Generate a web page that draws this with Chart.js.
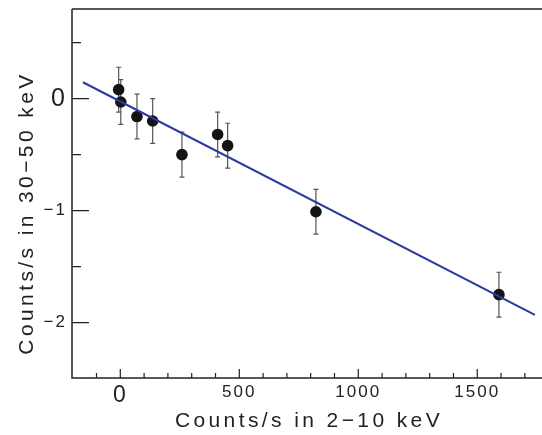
<!DOCTYPE html>
<html><head><meta charset="utf-8">
<script src="https://cdn.jsdelivr.net/npm/chart.js@4/dist/chart.umd.min.js"></script>
<style>html,body{margin:0;padding:0;background:#fff}canvas{display:block}</style>
</head><body>
<canvas id="c" width="542" height="435"></canvas>
<script>
// ---- data ----
const xVals = [-7, 2, 70, 136, 259, 409, 451, 822, 1591];
const yVals = [0.08, -0.03, -0.16, -0.20, -0.50, -0.32, -0.42, -1.01, -1.75];
const yErr  = [0.20, 0.20, 0.20, 0.20, 0.20, 0.20, 0.20, 0.20, 0.20];
const fitX = [-157, 1742];
const fitY = [0.146, -1.93];
const xMajorTicks = [0, 500, 1000, 1500];
const xMinorTicks = [-100, 100, 200, 300, 400, 600, 700, 800, 900, 1100, 1200, 1300, 1400, 1600, 1700];
const yMajorTicks = [0, -1, -2];
const yMinorTicks = [0.5, -0.5, -1.5];
const yTickLabels = ['0', '\u22121', '\u22122'];
const xTitle = 'Counts/s in 2\u221210 keV';
const yTitle = 'Counts/s in 30\u221250 keV';

const FAM = "'Liberation Sans', Arial, Helvetica, sans-serif";
const INK = '#222222';

const framePlugin = {
  id: 'frame',
  beforeDraw(chart) { chart.ctx.letterSpacing = '2px'; },
  beforeDatasetsDraw(chart) {
    const ctx = chart.ctx, xs = chart.scales.x, ys = chart.scales.y;
    ctx.save();
    ctx.strokeStyle = '#555555';
    ctx.lineWidth = 1.2;
    for (let i = 0; i < xVals.length; i++) {
      const px = xs.getPixelForValue(xVals[i]);
      const pt = ys.getPixelForValue(yVals[i] + yErr[i]);
      const pb = ys.getPixelForValue(yVals[i] - yErr[i]);
      ctx.beginPath();
      ctx.moveTo(px, pt); ctx.lineTo(px, pb);
      ctx.moveTo(px - 2.5, pt); ctx.lineTo(px + 2.5, pt);
      ctx.moveTo(px - 2.5, pb); ctx.lineTo(px + 2.5, pb);
      ctx.stroke();
    }
    ctx.restore();
  },
  afterDraw(chart) {
    const ctx = chart.ctx, a = chart.chartArea, xs = chart.scales.x, ys = chart.scales.y;
    ctx.save();
    ctx.strokeStyle = INK;
    ctx.lineWidth = 1.5;
    ctx.beginPath();
    ctx.moveTo(a.left, a.top); ctx.lineTo(a.left, a.bottom); ctx.lineTo(a.right, a.bottom);
    ctx.moveTo(a.left, a.top); ctx.lineTo(a.right, a.top);
    ctx.stroke();
    ctx.lineWidth = 1.2;
    ctx.beginPath();
    xMajorTicks.forEach(v => { const p = xs.getPixelForValue(v); ctx.moveTo(p, a.bottom); ctx.lineTo(p, a.bottom - 9); });
    xMinorTicks.forEach(v => { const p = xs.getPixelForValue(v); ctx.moveTo(p, a.bottom); ctx.lineTo(p, a.bottom - 5); });
    yMajorTicks.forEach(v => { const p = ys.getPixelForValue(v); ctx.moveTo(a.left, p); ctx.lineTo(a.left + 17, p); });
    yMinorTicks.forEach(v => { const p = ys.getPixelForValue(v); ctx.moveTo(a.left, p); ctx.lineTo(a.left + 9, p); });
    ctx.stroke();
    // titles
    ctx.fillStyle = INK;
    ctx.font = '21px ' + FAM;
    ctx.letterSpacing = '3.4px';
    ctx.textAlign = 'center';
    ctx.textBaseline = 'alphabetic';
    ctx.fillText(xTitle, 309, 427);
    ctx.translate(33, 215);
    ctx.rotate(-Math.PI / 2);
    ctx.fillText(yTitle, 2, 0);
    ctx.restore();
  }
};

new Chart(document.getElementById('c'), {
  type: 'scatter',
  data: {
    datasets: [
      {
        type: 'line',
        data: fitX.map((x, i) => ({ x, y: fitY[i] })),
        borderColor: '#2a3a9e',
        borderWidth: 2,
        pointRadius: 0,
        fill: false,
        order: 0
      },
      {
        data: xVals.map((x, i) => ({ x, y: yVals[i] })),
        backgroundColor: '#141414',
        borderColor: '#141414',
        borderWidth: 0,
        pointRadius: 5.8,
        order: 1
      }
    ]
  },
  options: {
    responsive: false,
    animation: false,
    events: [],
    layout: { autoPadding: false, padding: { top: 9, right: 0, bottom: 0, left: 0 } },
    plugins: { legend: { display: false }, tooltip: { enabled: false } },
    scales: {
      x: {
        type: 'linear', min: -203, max: 1772,
        afterBuildTicks(s) { s.ticks = xMajorTicks.map(v => ({ value: v })); },
        afterFit(s) { s.height = 57; s.paddingLeft = 0; s.paddingRight = 0; s.paddingTop = 0; s.paddingBottom = 0; },
        grid: { display: false, drawTicks: false },
        border: { display: false },
        ticks: { padding: 4, color: INK, maxRotation: 0, autoSkip: false,
                 font: c => ({ size: (c.tick && c.tick.value === 0) ? 23 : 17, family: FAM }),
                 callback: v => String(v) }
      },
      y: {
        type: 'linear', min: -2.494, max: 0.80,
        afterBuildTicks(s) { s.ticks = yMajorTicks.map(v => ({ value: v })); },
        afterFit(s) { s.width = 72; s.paddingLeft = 0; s.paddingRight = 0; s.paddingTop = 0; s.paddingBottom = 0; },
        grid: { display: false, drawTicks: false },
        border: { display: false },
        ticks: { padding: 5, color: INK, autoSkip: false,
                 font: c => ({ size: (c.tick && c.tick.value === 0) ? 25 : 17, family: FAM }),
                 callback: v => yTickLabels[yMajorTicks.indexOf(v)] }
      }
    }
  },
  plugins: [framePlugin]
});
</script>
</body></html>
